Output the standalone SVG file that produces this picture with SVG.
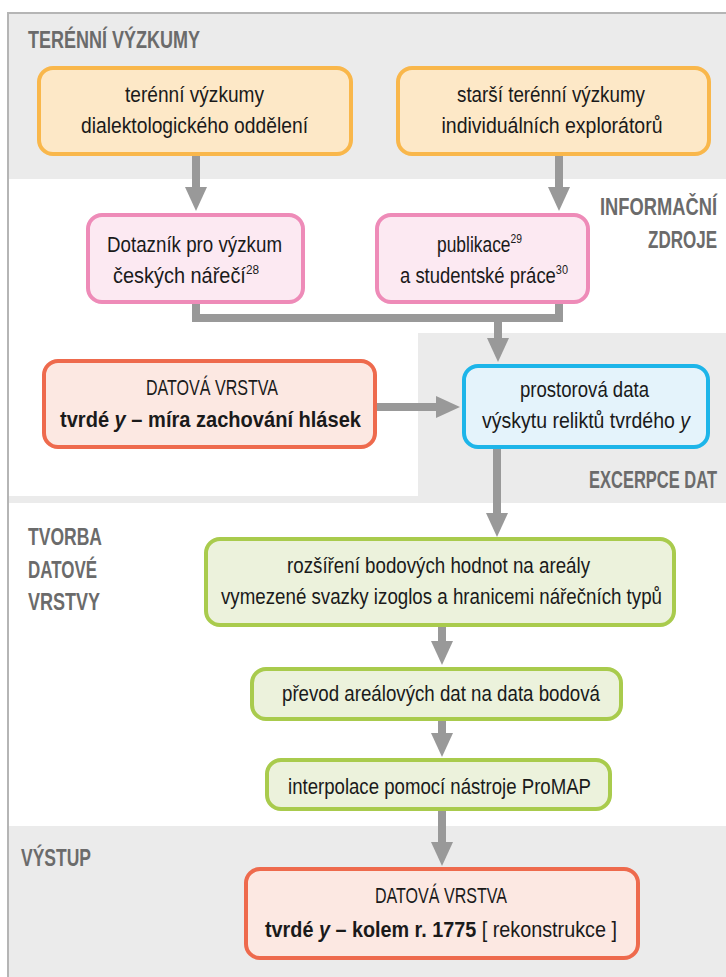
<svg xmlns="http://www.w3.org/2000/svg" width="726" height="977" viewBox="0 0 726 977">
<defs>
<style>
.hd{font-family:"Liberation Sans Narrow","Liberation Sans",Arial,sans-serif;font-weight:bold;font-size:23px;fill:#6b6b6b}
.hr{text-anchor:end}
.tx{font-family:"Liberation Sans Narrow","Liberation Sans",Arial,sans-serif;font-size:22px;fill:#1a1a1a;text-anchor:middle}
.b{font-weight:bold}
.i{font-style:italic}
.sup{font-size:13px}
.box{stroke-width:4}
.or{fill:#fde8c7;stroke:#f9b74b}
.pk{fill:#fce9f2;stroke:#ee8bb8}
.rd{fill:#fce8e2;stroke:#ee6a4d}
.bl{fill:#e4f3fb;stroke:#1db5e9}
.gr{fill:#ecf2dc;stroke:#a9cb4d}
.con{fill:none;stroke:#999999;stroke-width:8}
</style>
<marker id="ah" markerUnits="userSpaceOnUse" markerWidth="26" markerHeight="24" refX="4" refY="11" orient="auto">
<path d="M0,0 L24,11 L0,22 Z" fill="#999999"/>
</marker>
</defs>

<g id="background">
<rect x="0" y="0" width="726" height="977" fill="#ffffff"/>
<rect x="8" y="13" width="718" height="166" fill="#ebebeb"/>
<rect x="418" y="333" width="308" height="170" fill="#ebebeb"/>
<rect x="8" y="496" width="718" height="7" fill="#ebebeb"/>
<rect x="8" y="826" width="718" height="151" fill="#ebebeb"/>
<path d="M8,977 L8,13 L726,13" fill="none" stroke="#b5b5b5" stroke-width="2"/>
</g>

<g id="headings">
<text class="hd" x="28" y="48" textLength="172" lengthAdjust="spacingAndGlyphs">TERÉNNÍ VÝZKUMY</text>
<text class="hd hr" x="717" y="215" textLength="117" lengthAdjust="spacingAndGlyphs">INFORMAČNÍ</text>
<text class="hd hr" x="717" y="248" textLength="69" lengthAdjust="spacingAndGlyphs">ZDROJE</text>
<text class="hd hr" x="717" y="488" textLength="128" lengthAdjust="spacingAndGlyphs">EXCERPCE DAT</text>
<text class="hd" x="28" y="545" textLength="74" lengthAdjust="spacingAndGlyphs">TVORBA</text>
<text class="hd" x="28" y="578" textLength="69" lengthAdjust="spacingAndGlyphs">DATOVÉ</text>
<text class="hd" x="28" y="610" textLength="72" lengthAdjust="spacingAndGlyphs">VRSTVY</text>
<text class="hd" x="21" y="866" textLength="70" lengthAdjust="spacingAndGlyphs">VÝSTUP</text>
</g>

<g id="connectors">
<line class="con" x1="196" y1="156" x2="196" y2="191" marker-end="url(#ah)"/>
<line class="con" x1="559" y1="156" x2="559" y2="191" marker-end="url(#ah)"/>
<path class="con" d="M196,303 L196,318 L559,318 L559,303"/>
<line class="con" x1="498" y1="318" x2="498" y2="342" marker-end="url(#ah)"/>
<line class="con" x1="377" y1="407" x2="440" y2="407" marker-end="url(#ah)"/>
<line class="con" x1="497" y1="449" x2="497" y2="517" marker-end="url(#ah)"/>
<line class="con" x1="442" y1="627" x2="442" y2="645" marker-end="url(#ah)"/>
<line class="con" x1="442" y1="720" x2="442" y2="737" marker-end="url(#ah)"/>
<line class="con" x1="442" y1="810" x2="442" y2="846" marker-end="url(#ah)"/>
</g>

<g id="n_teren1">
<rect class="box or" x="39" y="68" width="312" height="86" rx="14"/>
<text class="tx" x="194.5" y="102" textLength="139" lengthAdjust="spacingAndGlyphs">terénní výzkumy</text>
<text class="tx" x="194.5" y="133" textLength="227" lengthAdjust="spacingAndGlyphs">dialektologického oddělení</text>
</g>

<g id="n_teren2">
<rect class="box or" x="398" y="68" width="311" height="86" rx="14"/>
<text class="tx" x="551" y="102" textLength="188" lengthAdjust="spacingAndGlyphs">starší terénní výzkumy</text>
<text class="tx" x="552" y="133" textLength="221" lengthAdjust="spacingAndGlyphs">individuálních explorátorů</text>
</g>

<g id="n_dotaznik">
<rect class="box pk" x="88" y="215" width="215" height="87" rx="14"/>
<text class="tx" x="194.5" y="252" textLength="175" lengthAdjust="spacingAndGlyphs">Dotazník pro výzkum</text>
<text class="tx" x="186" y="283" textLength="146" lengthAdjust="spacingAndGlyphs">českých nářečí<tspan class="sup" dy="-9">28</tspan></text>
</g>

<g id="n_publikace">
<rect class="box pk" x="377" y="215" width="211" height="87" rx="14"/>
<text class="tx" x="479.5" y="252" textLength="85" lengthAdjust="spacingAndGlyphs">publikace<tspan class="sup" dy="-9">29</tspan></text>
<text class="tx" x="484" y="283" textLength="168" lengthAdjust="spacingAndGlyphs">a studentské práce<tspan class="sup" dy="-9">30</tspan></text>
</g>

<g id="n_vrstva1">
<rect class="box rd" x="44" y="361" width="331" height="86" rx="14"/>
<text class="tx" x="212" y="395" textLength="132" lengthAdjust="spacingAndGlyphs">DATOVÁ VRSTVA</text>
<text class="tx b" x="210.5" y="427" textLength="301" lengthAdjust="spacingAndGlyphs">tvrdé <tspan class="i">y</tspan> – míra zachování hlásek</text>
</g>

<g id="n_prostorova">
<rect class="box bl" x="464" y="366" width="244" height="81" rx="14"/>
<text class="tx" x="584.5" y="397" textLength="129" lengthAdjust="spacingAndGlyphs">prostorová data</text>
<text class="tx" x="586" y="428" textLength="208" lengthAdjust="spacingAndGlyphs">výskytu reliktů tvrdého <tspan class="i">y</tspan></text>
</g>

<g id="n_rozsireni">
<rect class="box gr" x="206" y="539" width="468" height="86" rx="14"/>
<text class="tx" x="438.5" y="573" textLength="303" lengthAdjust="spacingAndGlyphs">rozšíření bodových hodnot na areály</text>
<text class="tx" x="441.5" y="604" textLength="441" lengthAdjust="spacingAndGlyphs">vymezené svazky izoglos a hranicemi nářečních typů</text>
</g>

<g id="n_prevod">
<rect class="box gr" x="252" y="669" width="369" height="50" rx="14"/>
<text class="tx" x="441" y="701" textLength="318" lengthAdjust="spacingAndGlyphs">převod areálových dat na data bodová</text>
</g>

<g id="n_interpolace">
<rect class="box gr" x="267" y="760" width="343" height="49" rx="14"/>
<text class="tx" x="439.5" y="794" textLength="303" lengthAdjust="spacingAndGlyphs">interpolace pomocí nástroje ProMAP</text>
</g>

<g id="n_vrstva2">
<rect class="box rd" x="246" y="869" width="392" height="89" rx="14"/>
<text class="tx" x="441" y="903" textLength="132" lengthAdjust="spacingAndGlyphs">DATOVÁ VRSTVA</text>
<text class="tx" x="441" y="937" textLength="352" lengthAdjust="spacingAndGlyphs"><tspan class="b">tvrdé <tspan class="i">y</tspan> – kolem r. 1775</tspan> [ rekonstrukce ]</text>
</g>
</svg>
